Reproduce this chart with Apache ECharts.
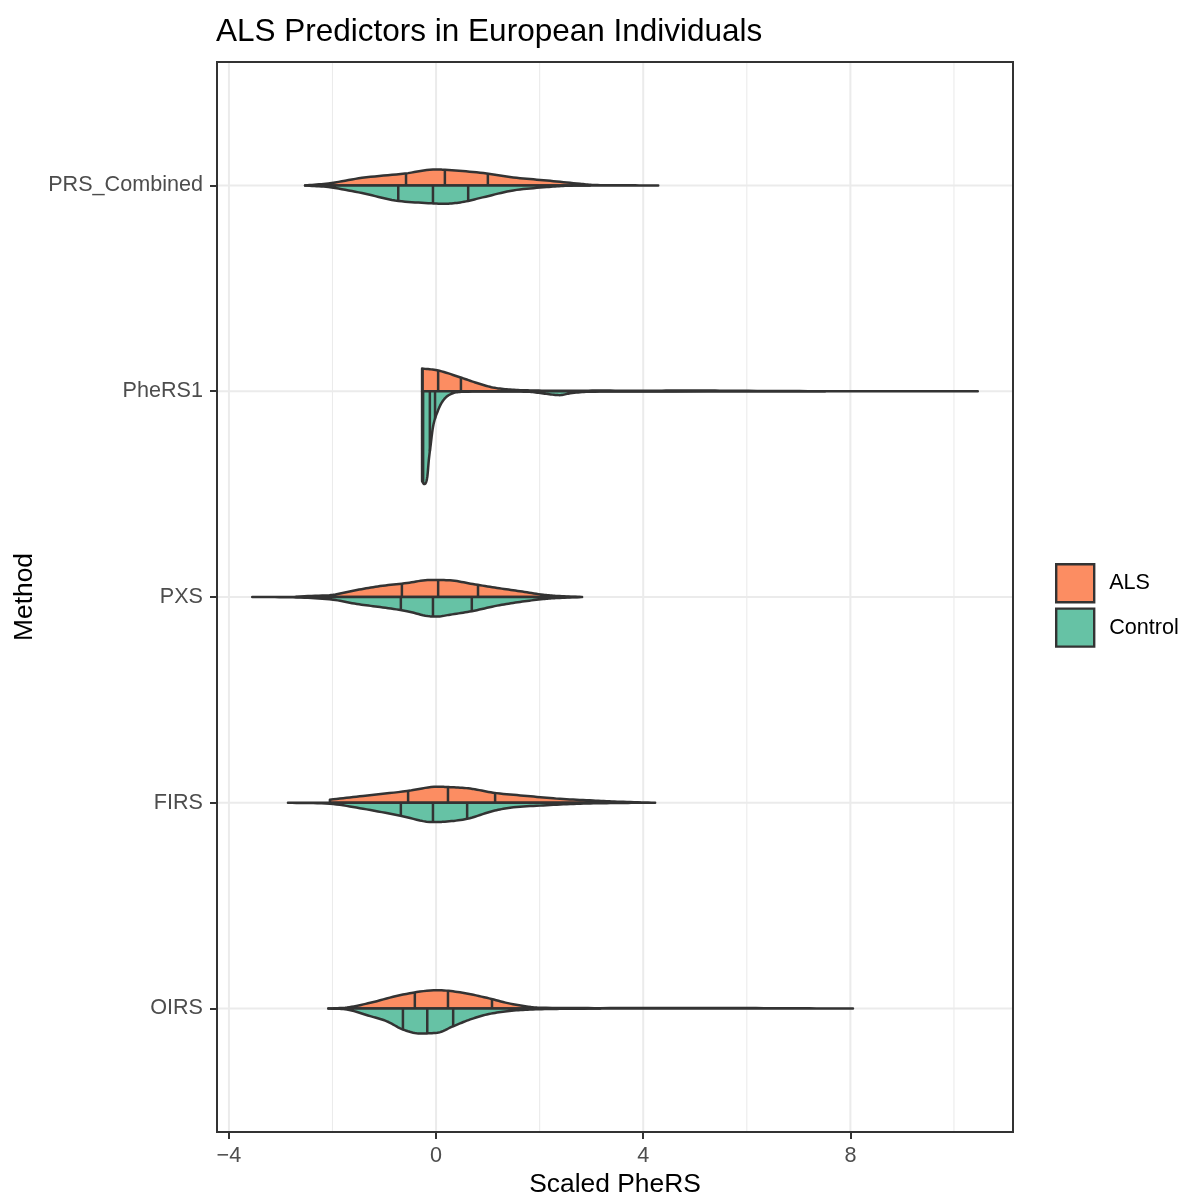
<!DOCTYPE html>
<html>
<head>
<meta charset="utf-8">
<script src="https://cdn.jsdelivr.net/npm/echarts@6/dist/echarts.min.js"></script>
<style>
html,body{margin:0;padding:0;background:#fff;}
#chart{width:1180px;height:1194px;}
</style>
</head>
<body>
<div id="chart"></div>
<script>
// ---------- data ----------
const methods = ['PRS_Combined', 'PheRS1', 'PXS', 'FIRS', 'OIRS'];
const groups = ['ALS', 'Control'];
const xTicks = [-4, 0, 4, 8];
const xMinorTicks = [-2, 2, 6, 10];

// half-violin outlines: x = Scaled PheRS, w = half-width (in category units)
const prsAlsX = [-2.53, -2.08, -1.43, -0.60, 0, 0.17, 0.85, 1.49, 2.14, 2.78, 3.07, 3.55, 4.29];
const prsAlsW = [0, 0.010, 0.037, 0.058, 0.078, 0.076, 0.062, 0.039, 0.024, 0.008, 0.002, 0.0008, 0];
const prsCtrlX = [-2.53, -2.08, -1.43, -0.79, -0.15, 0.17, 0.50, 0.90, 1.49, 2.14, 2.53, 2.97];
const prsCtrlW = [0, 0.008, 0.037, 0.073, 0.086, 0.089, 0.081, 0.058, 0.024, 0.008, 0.0015, 0];
const prsAlsQ = [-0.58, 0.17, 1.00];
const prsCtrlQ = [-0.73, -0.06, 0.62];

const pheAlsX = [-0.27, 0.02, 0.46, 0.79, 1.10, 1.43, 1.81, 2.39, 3.17, 4.13, 4.90, 5.87, 7.51];
const pheAlsW = [0.110, 0.102, 0.068, 0.040, 0.018, 0.008, 0.004, 0.0025, 0.003, 0.0025, 0.004, 0.002, 0];
const pheCtrlX = [-0.27, -0.23, -0.17, -0.14, -0.10, -0.06, 0.04, 0.14, 0.31, 0.56, 1.24, 1.81, 2.10, 2.39, 2.59, 2.97, 3.94, 10.46];
const pheCtrlW = [0.437, 0.451, 0.417, 0.335, 0.252, 0.175, 0.092, 0.044, 0.011, 0.0024, 0.001, 0.003, 0.012, 0.019, 0.010, 0.0024, 0.001, 0];
const pheAlsQ = [-0.26, 0.04, 0.48];
const pheCtrlQ = [-0.25, -0.12, -0.02];

const pxsAlsX = [-2.72, -2.68, -1.99, -1.53, -1.08, -0.56, -0.12, 0.27, 0.71, 1.18, 1.62, 2.07, 2.34, 2.78];
const pxsAlsW = [0, 0.0015, 0.011, 0.034, 0.053, 0.068, 0.083, 0.081, 0.063, 0.044, 0.028, 0.011, 0.005, 0];
const pxsCtrlX = [-3.55, -2.68, -1.99, -1.53, -1.08, -0.56, -0.12, 0.02, 0.27, 0.69, 1.18, 1.62, 2.07, 2.34, 2.82];
const pxsCtrlW = [0, 0.0024, 0.013, 0.034, 0.049, 0.069, 0.094, 0.095, 0.086, 0.069, 0.042, 0.024, 0.010, 0.005, 0];
const pxsAlsQ = [-0.66, 0.04, 0.81];
const pxsCtrlQ = [-0.68, -0.06, 0.69];

const firsAlsX = [-2.05, -1.41, -0.56, 0.02, 0.27, 0.66, 1.10, 1.76, 2.39, 3.03, 3.55, 4.23];
const firsAlsW = [0.015, 0.033, 0.057, 0.078, 0.076, 0.069, 0.049, 0.033, 0.019, 0.011, 0.005, 0];
const firsCtrlX = [-2.86, -2.05, -1.41, -0.69, -0.06, 0.17, 0.60, 1.10, 1.43, 2.07, 2.72, 3.36, 3.94];
const firsCtrlW = [0, 0.005, 0.029, 0.063, 0.094, 0.092, 0.078, 0.040, 0.024, 0.013, 0.005, 0.0015, 0];
const firsAlsQ = [-0.54, 0.23, 1.14];
const firsCtrlQ = [-0.68, -0.06, 0.60];

const oirsAlsX = [-2.08, -1.72, -1.27, -0.64, 0.02, 0.46, 0.98, 1.43, 2.01, 3.17, 5.10, 6.64, 8.05];
const oirsAlsW = [0, 0.005, 0.028, 0.068, 0.089, 0.079, 0.052, 0.024, 0.004, 0.002, 0.003, 0.0015, 0];
const oirsCtrlX = [-2.08, -1.72, -1.27, -0.95, -0.64, -0.31, 0.02, 0.33, 0.66, 0.98, 1.37, 1.81, 2.39, 3.17];
const oirsCtrlW = [0, 0.005, 0.037, 0.062, 0.102, 0.121, 0.118, 0.086, 0.053, 0.029, 0.013, 0.005, 0.0015, 0];
const oirsAlsQ = [-0.41, 0.23, 1.08];
const oirsCtrlQ = [-0.64, -0.17, 0.33];

// ---------- assemble ----------
const violins = {
  ALS: [
    { x: prsAlsX, w: prsAlsW, q: prsAlsQ },
    { x: pheAlsX, w: pheAlsW, q: pheAlsQ },
    { x: pxsAlsX, w: pxsAlsW, q: pxsAlsQ },
    { x: firsAlsX, w: firsAlsW, q: firsAlsQ },
    { x: oirsAlsX, w: oirsAlsW, q: oirsAlsQ }
  ],
  Control: [
    { x: prsCtrlX, w: prsCtrlW, q: prsCtrlQ },
    { x: pheCtrlX, w: pheCtrlW, q: pheCtrlQ },
    { x: pxsCtrlX, w: pxsCtrlW, q: pxsCtrlQ },
    { x: firsCtrlX, w: firsCtrlW, q: firsCtrlQ },
    { x: oirsCtrlX, w: oirsCtrlW, q: oirsCtrlQ }
  ]
};
const colors = { ALS: '#FC8D62', Control: '#66C2A5' };
const OUT = '#333333';
const FONT = '"Liberation Sans", Arial, Helvetica, sans-serif';
const nCat = methods.length;
const catPos = i => nCat - i; // first method at top

// monotone cubic (Fritsch-Carlson) tangents
function tangents(xs, ys) {
  const m = xs.length, d = [], t = new Array(m).fill(0);
  for (let k = 0; k < m - 1; k++) d.push((ys[k + 1] - ys[k]) / (xs[k + 1] - xs[k]));
  if (m < 2) return t;
  t[0] = d[0]; t[m - 1] = d[m - 2];
  for (let k = 1; k < m - 1; k++) t[k] = (d[k - 1] * d[k] <= 0) ? 0 : (d[k - 1] + d[k]) / 2;
  for (let k = 0; k < m - 1; k++) {
    if (d[k] === 0) { t[k] = 0; t[k + 1] = 0; continue; }
    const a = t[k] / d[k], b = t[k + 1] / d[k], s = a * a + b * b;
    if (s > 9) { const tau = 3 / Math.sqrt(s); t[k] = tau * a * d[k]; t[k + 1] = tau * b * d[k]; }
  }
  return t;
}
function hermite(xs, ys, t, k, u) {
  const h = xs[k + 1] - xs[k];
  const h00 = 2 * u * u * u - 3 * u * u + 1, h10 = u * u * u - 2 * u * u + u;
  const h01 = -2 * u * u * u + 3 * u * u, h11 = u * u * u - u * u;
  return Math.max(0, h00 * ys[k] + h10 * h * t[k] + h01 * ys[k + 1] + h11 * h * t[k + 1]);
}
function evalAt(xs, ys, t, x) {
  if (x <= xs[0]) return ys[0];
  if (x >= xs[xs.length - 1]) return ys[ys.length - 1];
  let k = 0;
  while (k < xs.length - 2 && x > xs[k + 1]) k++;
  return hermite(xs, ys, t, k, (x - xs[k]) / (xs[k + 1] - xs[k]));
}

function violinRenderer(group) {
  const sign = group === 'ALS' ? 1 : -1;
  return function (params, api) {
    const i = api.value(0);
    const v = violins[group][i];
    const yc = catPos(i);
    const t = tangents(v.x, v.w);
    const pts = [api.coord([v.x[0], yc])];
    for (let k = 0; k < v.x.length; k++) {
      if (k > 0) {
        for (let s = 1; s < 10; s++) {
          const u = s / 10;
          const xx = v.x[k - 1] + u * (v.x[k] - v.x[k - 1]);
          pts.push(api.coord([xx, yc + sign * hermite(v.x, v.w, t, k - 1, u)]));
        }
      }
      pts.push(api.coord([v.x[k], yc + sign * v.w[k]]));
    }
    pts.push(api.coord([v.x[v.x.length - 1], yc]));
    const children = [{
      type: 'polygon',
      shape: { points: pts },
      style: { fill: colors[group], stroke: OUT, lineWidth: 2.5, lineJoin: 'round' },
      z2: 1
    }];
    v.q.forEach(q => {
      const w = evalAt(v.x, v.w, t, q);
      const p0 = api.coord([q, yc]), p1 = api.coord([q, yc + sign * w]);
      children.push({
        type: 'line',
        shape: { x1: p0[0], y1: p0[1], x2: p1[0], y2: p1[1] },
        style: { stroke: OUT, lineWidth: 2.5 },
        z2: 2
      });
    });
    return { type: 'group', children: children };
  };
}

const gridData = []
  .concat(xTicks.map(v => [v, 0, 2]))
  .concat(xMinorTicks.map(v => [v, 0, 1.1]))
  .concat(methods.map((m, i) => [catPos(i), 1, 2]));

const chart = echarts.init(document.getElementById('chart'), null, { renderer: 'canvas' });
chart.setOption({
  animation: false,
  backgroundColor: '#ffffff',
  textStyle: { fontFamily: FONT },
  title: {
    text: 'ALS Predictors in European Individuals',
    left: 216, top: 16, padding: 0,
    textStyle: { fontSize: 31.5, fontWeight: 'normal', color: '#000', fontFamily: FONT }
  },
  legend: {
    orient: 'vertical', left: 1050, top: 558,
    itemWidth: 38, itemHeight: 38, itemGap: 4,
    icon: 'rect', selectedMode: false,
    data: groups.map(g => ({ name: g, itemStyle: { color: colors[g], borderColor: OUT, borderWidth: 2.4 } })),
    textStyle: { fontSize: 21.6, color: '#000', fontFamily: FONT, padding: [2, 0, 0, 10] }
  },
  grid: {
    left: 217, right: 167, top: 62, bottom: 62,
    containLabel: false, outerBoundsMode: 'none',
    show: true, borderColor: OUT, borderWidth: 2, backgroundColor: '#fff'
  },
  xAxis: {
    type: 'value', min: -4.23, max: 11.14,
    name: 'Scaled PheRS', nameLocation: 'middle', nameGap: 39,
    nameTextStyle: { fontSize: 26.4, color: '#000', fontFamily: FONT },
    axisLine: { show: false, onZero: false },
    axisTick: { show: true, customValues: xTicks, length: 7, lineStyle: { color: OUT, width: 2 } },
    axisLabel: {
      customValues: xTicks, margin: 13, fontSize: 21.6, color: '#4D4D4D', fontFamily: FONT,
      formatter: v => (v < 0 ? '\u2212' + Math.abs(v) : String(v))
    },
    splitLine: { show: false }
  },
  yAxis: {
    type: 'value', min: 0.4, max: 5.6,
    name: 'Method', nameLocation: 'middle', nameGap: 178,
    nameTextStyle: { fontSize: 26.4, color: '#000', fontFamily: FONT },
    axisLine: { show: false, onZero: false },
    axisTick: { show: true, customValues: methods.map((m, i) => catPos(i)), length: 7, lineStyle: { color: OUT, width: 2 } },
    axisLabel: {
      customValues: methods.map((m, i) => catPos(i)), margin: 14, fontSize: 21.6, color: '#4D4D4D', fontFamily: FONT,
      padding: [3, 0, 0, 0],
      formatter: v => methods[nCat - Math.round(v)]
    },
    splitLine: { show: false }
  },
  series: [
    {
      type: 'custom', name: 'grid', silent: true, z: 1,
      data: gridData,
      renderItem: function (params, api) {
        const cs = params.coordSys;
        const v = api.value(0), kind = api.value(1), lw = api.value(2);
        if (kind === 0) {
          const x = api.coord([v, 3])[0];
          return { type: 'line', shape: { x1: x, y1: cs.y + 1, x2: x, y2: cs.y + cs.height - 1 }, style: { stroke: '#EBEBEB', lineWidth: lw } };
        }
        const y = api.coord([0, v])[1];
        return { type: 'line', shape: { x1: cs.x + 1, y1: y, x2: cs.x + cs.width - 1, y2: y }, style: { stroke: '#EBEBEB', lineWidth: lw } };
      }
    },
    {
      type: 'custom', name: 'ALS', z: 3,
      itemStyle: { color: colors.ALS },
      data: methods.map((m, i) => [i, catPos(i)]),
      renderItem: violinRenderer('ALS')
    },
    {
      type: 'custom', name: 'Control', z: 3,
      itemStyle: { color: colors.Control },
      data: methods.map((m, i) => [i, catPos(i)]),
      renderItem: violinRenderer('Control')
    }
  ]
});
</script>
</body>
</html>
